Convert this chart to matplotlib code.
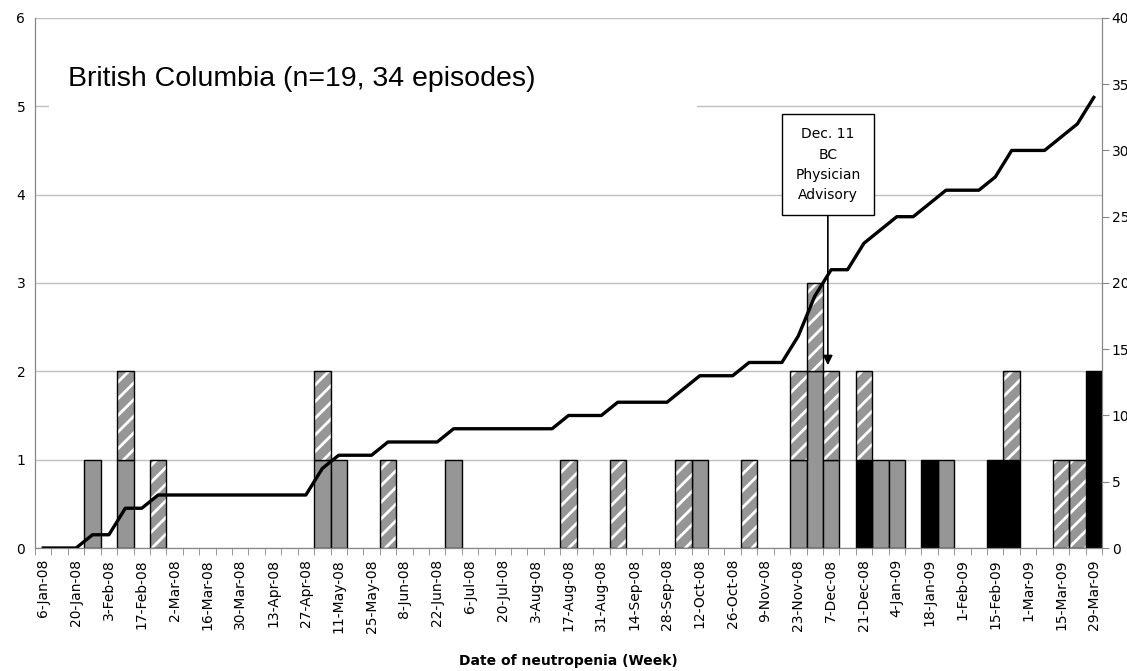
import numpy as np
import matplotlib.pyplot as plt
from matplotlib.patches import Rectangle

plt.rcParams['hatch.linewidth'] = 2.0

# one value per week, 6-Jan-08 ... 29-Mar-09 (65 weeks)
weeks = np.arange(65)

grey_cases = [0, 0, 0, 1, 0, 1, 0, 0, 0, 0, 0, 0, 0,
              0, 0, 0, 0, 1, 1, 0, 0, 0, 0, 0, 0, 1,
              0, 0, 0, 0, 0, 0, 0, 0, 0, 0, 0, 0, 0,
              0, 1, 0, 0, 0, 0, 0, 1, 2, 1, 0, 0, 1,
              1, 0, 0, 1, 0, 0, 0, 0, 0, 0, 0, 0, 0]

black_cases = [0, 0, 0, 0, 0, 0, 0, 0, 0, 0, 0, 0, 0,
               0, 0, 0, 0, 0, 0, 0, 0, 0, 0, 0, 0, 0,
               0, 0, 0, 0, 0, 0, 0, 0, 0, 0, 0, 0, 0,
               0, 0, 0, 0, 0, 0, 0, 0, 0, 0, 0, 1, 0,
               0, 0, 1, 0, 0, 0, 1, 1, 0, 0, 0, 0, 2]

hatched_cases = [0, 0, 0, 0, 0, 1, 0, 1, 0, 0, 0, 0, 0,
                 0, 0, 0, 0, 1, 0, 0, 0, 1, 0, 0, 0, 0,
                 0, 0, 0, 0, 0, 0, 1, 0, 0, 1, 0, 0, 0,
                 1, 0, 0, 0, 1, 0, 0, 1, 1, 1, 0, 1, 0,
                 0, 0, 0, 0, 0, 0, 0, 1, 0, 0, 1, 1, 0]

week_labels = ['6-Jan-08', '20-Jan-08', '3-Feb-08', '17-Feb-08', '2-Mar-08',
               '16-Mar-08', '30-Mar-08', '13-Apr-08', '27-Apr-08', '11-May-08',
               '25-May-08', '8-Jun-08', '22-Jun-08', '6-Jul-08', '20-Jul-08',
               '3-Aug-08', '17-Aug-08', '31-Aug-08', '14-Sep-08', '28-Sep-08',
               '12-Oct-08', '26-Oct-08', '9-Nov-08', '23-Nov-08', '7-Dec-08',
               '21-Dec-08', '4-Jan-09', '18-Jan-09', '1-Feb-09', '15-Feb-09',
               '1-Mar-09', '15-Mar-09', '29-Mar-09']

grey_cases = np.array(grey_cases)
black_cases = np.array(black_cases)
hatched_cases = np.array(hatched_cases)
cumulative = np.cumsum(grey_cases + black_cases + hatched_cases)

fig = plt.figure(figsize=(11.27, 6.71), dpi=100)
ax = fig.add_axes([0.0311, 0.1833, 0.9467, 0.79])

axis_grey = '#868686'

# only draw the weeks that have cases (zero bars would leave an outline on the axis)
g = grey_cases > 0
ax.bar(weeks[g], grey_cases[g], width=1.0, color='#969696', edgecolor='black', lw=1.0, zorder=2)
b = black_cases > 0
ax.bar(weeks[b], black_cases[b], width=1.0, color='black', edgecolor='black', lw=1.0, zorder=2)
h = hatched_cases > 0
bottoms = (grey_cases + black_cases)[h]
# hatched bars: grey fill with white stripes, then black outline on top
ax.bar(weeks[h], hatched_cases[h], bottom=bottoms, width=1.0, color='#969696',
       edgecolor='white', hatch='//', lw=0, zorder=2)
ax.bar(weeks[h], hatched_cases[h], bottom=bottoms, width=1.0, fill=False,
       edgecolor='black', lw=1.0, zorder=2.1)

ax.set_xlim(-0.5, 64.5)
ax.set_ylim(0, 6)
ax.set_yticks(range(7))
ax.set_axisbelow(True)
ax.yaxis.grid(True, color='#BFBFBF', lw=1.0)
ax.tick_params(axis='y', length=0, pad=7, labelsize=10)

ax.set_xticks(weeks[::2])
ax.set_xticklabels(week_labels, rotation=90, fontsize=10)
ax.set_xticks(np.arange(-0.5, 65, 1), minor=True)
ax.tick_params(axis='x', which='major', length=0, pad=8)
ax.tick_params(axis='x', which='minor', length=5, color=axis_grey)

for side in ['left', 'bottom', 'right']:
    ax.spines[side].set_color(axis_grey)
ax.spines['top'].set_visible(False)

# white text box behind the title
ax.add_patch(Rectangle((0.013, 0.815), 0.607, 0.135, transform=ax.transAxes,
                       facecolor='white', edgecolor='none', zorder=1.5))
ax.text(0.031, 0.885, 'British Columbia (n=19, 34 episodes)', transform=ax.transAxes,
        fontsize=20.5, family='Liberation Sans', va='center', ha='left', zorder=3)

ax.annotate('Dec. 11\nBC\nPhysician\nAdvisory', xy=(47.8, 2.07), xytext=(47.8, 4.34),
            ha='center', va='center', fontsize=10, linespacing=1.55, zorder=5,
            bbox=dict(boxstyle='square,pad=0.95', facecolor='white', edgecolor='black', lw=1),
            arrowprops=dict(arrowstyle='-|>', color='black', lw=1.2, mutation_scale=14,
                            shrinkA=0, shrinkB=0))

ax2 = ax.twinx()
ax2.plot(weeks, cumulative, color='black', lw=2.4)
ax2.set_ylim(0, 40)
ax2.set_yticks(range(0, 41, 5))
ax2.tick_params(axis='y', length=5, color=axis_grey, pad=2, labelsize=10)
for side in ['left', 'bottom', 'right']:
    ax2.spines[side].set_color(axis_grey)
ax2.spines['top'].set_visible(False)

fig.text(568 / 1127, 1 - 661 / 671, 'Date of neutropenia (Week)', ha='center', va='center',
         fontsize=10, fontweight='bold')

fig.savefig('out.png', dpi=100)
